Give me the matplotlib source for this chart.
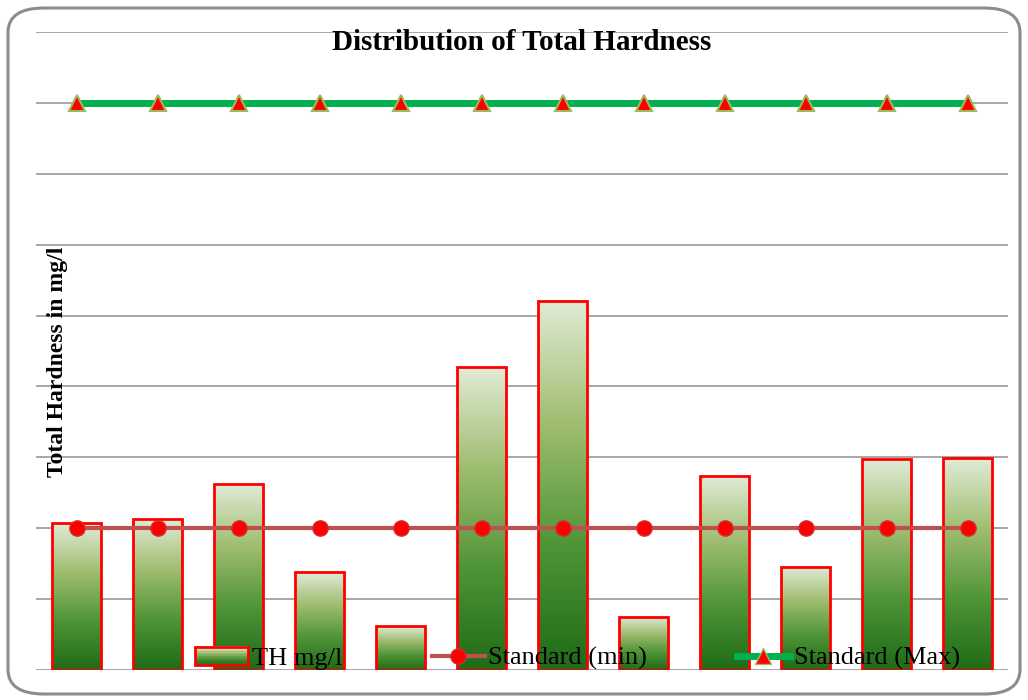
import numpy as np
import matplotlib.pyplot as plt
from matplotlib.colors import LinearSegmentedColormap
from matplotlib.patches import Rectangle, FancyBboxPatch, Patch
from matplotlib.lines import Line2D
from matplotlib.legend_handler import HandlerPatch

# dati
campioni = list(range(1, 13))
th_mgl = [207, 213, 262, 138, 62, 427, 521, 75, 273, 146, 297, 299]
std_min = [200] * 12
std_max = [800] * 12

plt.rcParams['font.family'] = ['Liberation Serif', 'DejaVu Serif']

verde = LinearSegmentedColormap.from_list('verde', ['#1f6b17', '#4f9437', '#9fbd70', '#e1ebd6'])
gradiente = np.linspace(0, 1, 256).reshape(-1, 1)


# maniglia della legenda con sfumatura
class HandlerGradiente(HandlerPatch):
    def create_artists(self, legend, orig_handle, xdescent, ydescent, width, height, fontsize, trans):
        artisti = []
        n = 12
        for i in range(n):
            r = Rectangle((-xdescent, -ydescent + height * i / n), width, height / n + 0.3,
                          facecolor=verde(i / (n - 1)), edgecolor='none', transform=trans)
            artisti.append(r)
        bordo = Rectangle((-xdescent, -ydescent), width, height, facecolor='none',
                          edgecolor='red', linewidth=2, transform=trans)
        artisti.append(bordo)
        return artisti


fig = plt.figure(figsize=(10.28, 7), dpi=100)
ax = fig.add_axes([36 / 1028, 30 / 700, 972 / 1028, 638 / 700])

x = np.arange(len(campioni))
larghezza = 0.6
for xi, v in zip(x, th_mgl):
    ax.imshow(gradiente, cmap=verde, origin='lower', aspect='auto',
              extent=[xi - larghezza / 2, xi + larghezza / 2, 0, v], zorder=2)
    ax.add_patch(Rectangle((xi - larghezza / 2, 0), larghezza, v, facecolor='none',
                           edgecolor='red', linewidth=2, zorder=3))

ax.plot(x, std_min, color='#c0504d', linewidth=3, marker='o', markersize=11,
        markerfacecolor='red', markeredgecolor='#d03030', zorder=4)
ax.plot(x, std_max, color='#00b050', linewidth=5, marker='^', markersize=12,
        markerfacecolor='red', markeredgecolor='#9bbb59', markeredgewidth=1.5, zorder=4)

ax.set_xlim(-0.5, 11.5)
ax.set_ylim(0, 900)
ax.set_yticks(np.arange(0, 901, 100))
ax.grid(axis='y', color='#a0a0a0', linewidth=1.3, zorder=0)
ax.set_axisbelow(True)
ax.tick_params(left=False, bottom=False, labelleft=False, labelbottom=False)
for s in ax.spines.values():
    s.set_visible(False)

fig.text(522 / 1028, 1 - 42 / 700, 'Distribution of Total Hardness', ha='center', va='center',
         fontsize=21, fontweight='bold')
fig.text(57 / 1028, 1 - 362 / 700, 'Total Hardness in mg/l', rotation=90, ha='center', va='center',
         fontsize=17, fontweight='bold')

maniglie = [Patch(facecolor='#9fbd70', edgecolor='red'),
            Line2D([], [], color='#c0504d', linewidth=3, marker='o', markersize=11,
                   markerfacecolor='red', markeredgecolor='#d03030'),
            Line2D([], [], color='#00b050', linewidth=5, marker='^', markersize=12,
                   markerfacecolor='red', markeredgecolor='#9bbb59')]
ax.legend(maniglie, ['TH mg/l', 'Standard (min)', 'Standard (Max)'], ncol=3, frameon=False,
          loc='center', bbox_to_anchor=(0.557, 0.018), fontsize=19, handlelength=2.0,
          handletextpad=0.15, columnspacing=3.4,
          handler_map={Patch: HandlerGradiente()})

# bordo arrotondato esterno
fig.patches.append(FancyBboxPatch((8 / 1028, 6 / 700), 1012 / 1028, 686 / 700,
                                  boxstyle='round,pad=0,rounding_size=0.035',
                                  transform=fig.transFigure, facecolor='none',
                                  edgecolor='#8c8c8c', linewidth=2.2))

fig.savefig('out.png', dpi=100)
